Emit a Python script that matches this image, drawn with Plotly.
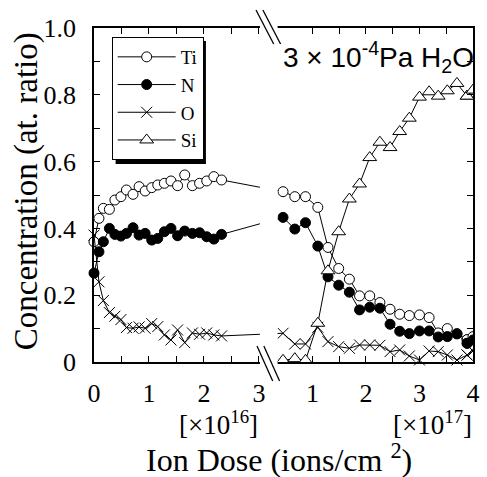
import plotly.graph_objects as go

# ---------------- data ----------------
# left segment: dose in units of 1e16 ions/cm^2
left_dose = [0, 0.09, 0.17, 0.28, 0.38, 0.49, 0.59, 0.71, 0.82, 0.93, 1.05,
             1.16, 1.28, 1.40, 1.52, 1.65, 1.79, 1.92, 2.05, 2.18, 2.32]
ti_left = [0.360, 0.430, 0.460, 0.457, 0.485, 0.495, 0.515, 0.502, 0.525, 0.512, 0.522,
           0.530, 0.535, 0.542, 0.528, 0.560, 0.528, 0.535, 0.542, 0.555, 0.545]
n_left = [0.266, 0.330, 0.360, 0.400, 0.382, 0.377, 0.385, 0.402, 0.380, 0.385, 0.365,
          0.370, 0.390, 0.400, 0.378, 0.392, 0.385, 0.387, 0.375, 0.368, 0.382]
o_left = [0.380, 0.240, 0.184, 0.148, 0.137, 0.127, 0.103, 0.101, 0.105, 0.101, 0.115,
          0.106, 0.081, 0.066, 0.096, 0.058, 0.087, 0.083, 0.087, 0.081, 0.078]
si_left = []

# right segment: dose in units of 1e17 ions/cm^2
right_dose = [0.45, 0.67, 0.87, 1.10, 1.29, 1.49, 1.69, 1.88, 2.07, 2.26,
              2.45, 2.63, 2.81, 3.00, 3.18, 3.35, 3.52, 3.70, 3.89, 4.00]
ti_right = [0.510, 0.495, 0.495, 0.463, 0.343, 0.280, 0.248, 0.198, 0.198, 0.178,
            0.158, 0.143, 0.139, 0.141, 0.133, 0.087, 0.100, 0.085, 0.067, 0.076]
n_right = [0.433, 0.398, 0.417, 0.347, 0.255, 0.230, 0.209, 0.156, 0.164, 0.161,
           0.113, 0.092, 0.085, 0.093, 0.093, 0.075, 0.076, 0.084, 0.056, 0.066]
o_right = [0.086, 0.054, 0.054, 0.104, 0.061, 0.046, 0.041, 0.051, 0.051, 0.050,
           0.031, 0.036, 0.018, 0.006, 0.033, 0.031, 0.021, 0.006, 0.021, 0.033]
si_right = [0.005, 0.010, 0.005, 0.116, 0.273, 0.390, 0.488, 0.533, 0.612, 0.658,
            0.642, 0.690, 0.730, 0.793, 0.809, 0.796, 0.812, 0.834, 0.796, 0.814]

series_names = ["Ti", "N", "O", "Si"]
left_major = [0, 1, 2, 3]
left_minor = [0.5, 1.5, 2.5]
left_tick_labels = ["0", "1", "2", "3"]
right_major = [1, 2, 3, 4]
right_minor = [1.5, 2.5, 3.5]
right_tick_labels = ["1", "2", "3", "4"]
y_major = [0, 0.2, 0.4, 0.6, 0.8, 1.0]
y_minor = [0.1, 0.3, 0.5, 0.7, 0.9]
y_tick_labels = ["0", "0.2", "0.4", "0.6", "0.8", "1.0"]

# ---------------- broken-axis mapping ----------------
BREAK = 3.0          # end of left segment (1e16 units)
K = 54.5 / 56.0      # relative scale of right segment per 1e17 unit

def pos_left(d):
    return d

def pos_right(d):
    return BREAK + d * K

X_MAX = pos_right(4.0)

SERIF = "Liberation Serif, Times New Roman, Times, serif"
SANS = "Liberation Sans, Arial, sans-serif"

styles = {
    "Ti": dict(symbol="circle", color="white", size=10, line=dict(color="black", width=1)),
    "N": dict(symbol="circle", color="black", size=10, line=dict(color="black", width=1)),
    "O": dict(symbol="x-thin", color="black", size=11, line=dict(color="black", width=1)),
    "Si": dict(symbol="triangle-up", color="white", size=12, line=dict(color="black", width=1)),
}

data_left = {"Ti": ti_left, "N": n_left, "O": o_left, "Si": si_left}
data_right = {"Ti": ti_right, "N": n_right, "O": o_right, "Si": si_right}

fig = go.Figure()
for name in series_names:
    yl = data_left[name]
    yr = data_right[name]
    xs = [pos_left(d) for d in left_dose[:len(yl)]] + [pos_right(d) for d in right_dose[:-1]]
    ys = list(yl) + list(yr[:-1])
    fig.add_trace(go.Scatter(
        x=xs, y=ys, mode="lines+markers", name=name,
        line=dict(color="black", width=1), marker=styles[name],
        cliponaxis=False,
    ))
    # last segment reaching the right frame (clipped there)
    fig.add_trace(go.Scatter(
        x=[pos_right(d) for d in right_dose[-2:]], y=yr[-2:], mode="lines+markers",
        line=dict(color="black", width=1), marker=styles[name],
        cliponaxis=True, showlegend=False, hoverinfo="skip",
    ))

xt_vals = [pos_left(v) for v in left_major] + [pos_right(v) for v in right_major]
xt_text = left_tick_labels + right_tick_labels
xminor_vals = [pos_left(v) for v in left_minor] + [pos_right(v) for v in right_minor]

W, H = 487, 477
L, R, T, B = 94, 7, 28, 115
PW, PH = W - L - R, H - T - B

def px(x):
    return (x - L) / PW

def py(y):
    return (H - B - y) / PH

shapes = [
    # gap of the broken axis
    dict(type="rect", xref="paper", yref="paper", x0=px(263), x1=px(281), y0=py(368), y1=py(22),
         fillcolor="white", line=dict(width=0), layer="above"),
    # legend shadow
    dict(type="rect", xref="paper", yref="paper", x0=px(116), x1=px(208), y0=py(164), y1=py(41),
         fillcolor="black", line=dict(width=0), layer="above"),
]
for (xa, ya, xb, yb) in [(259, 10, 277, 44), (266, 10, 284, 44), (260, 346, 276, 381), (267, 346, 283, 381)]:
    shapes.append(dict(type="line", xref="paper", yref="paper", x0=px(xa), y0=py(ya), x1=px(xb), y1=py(yb),
                       line=dict(color="black", width=1.3), layer="above"))

annotations = [
    dict(text="Concentration (at. ratio)", xref="paper", yref="paper", x=px(25), y=py(191),
         textangle=-90, showarrow=False, xanchor="center", yanchor="middle",
         font=dict(family=SERIF, size=33, color="black")),
    dict(text="Ion Dose (ions/cm <sup>2</sup>)", xref="paper", yref="paper", x=px(282), y=py(458),
         showarrow=False, xanchor="center", yanchor="middle",
         font=dict(family=SERIF, size=32, color="black")),
    dict(text="[×10<sup>16</sup>]", xref="paper", yref="paper", x=px(221), y=py(423),
         showarrow=False, xanchor="center", yanchor="middle",
         font=dict(family=SERIF, size=27, color="black")),
    dict(text="[×10<sup>17</sup>]", xref="paper", yref="paper", x=px(439), y=py(423),
         showarrow=False, xanchor="center", yanchor="middle",
         font=dict(family=SERIF, size=27, color="black")),
    dict(text="3 × 10<sup>-4</sup>Pa H<sub>2</sub>O", xref="paper", yref="paper", x=px(284), y=py(57),
         showarrow=False, xanchor="left", yanchor="middle",
         font=dict(family=SANS, size=28, color="black")),
]

tick_common = dict(ticks="inside", ticklen=6, tickwidth=1, tickcolor="black")
axis_common = dict(showline=True, linecolor="black", linewidth=1.5, mirror="ticks",
                   showgrid=False, zeroline=False,
                   tickfont=dict(family=SERIF, size=26, color="black"), **tick_common)

fig.update_layout(
    width=W, height=H,
    margin=dict(l=L, r=R, t=T, b=B),
    paper_bgcolor="white", plot_bgcolor="white",
    xaxis=dict(range=[0, X_MAX], tickmode="array", tickvals=xt_vals, ticktext=xt_text,
               minor=dict(tickmode="array", tickvals=xminor_vals, **tick_common),
               ticklabelstandoff=7, **axis_common),
    yaxis=dict(range=[0, 1.0], tickmode="array", tickvals=y_major, ticktext=y_tick_labels,
               minor=dict(tickmode="array", tickvals=y_minor, **tick_common),
               ticklabelstandoff=11, **axis_common),
    showlegend=True,
    legend=dict(x=px(112), y=py(37), xanchor="left", yanchor="top",
                bgcolor="white", bordercolor="black", borderwidth=1,
                font=dict(family=SERIF, size=19, color="black"),
                itemwidth=58, tracegroupgap=0),
    shapes=shapes,
    annotations=annotations,
)

fig.write_html("out.html", config={"displayModeBar": False},
               post_script="document.body.style.margin='0px';")
